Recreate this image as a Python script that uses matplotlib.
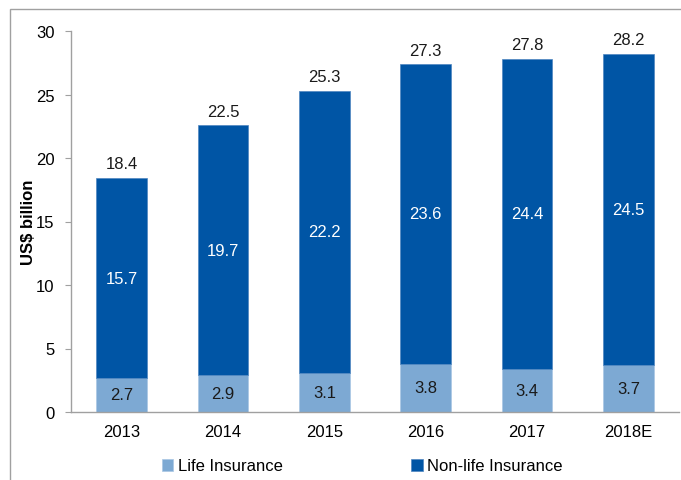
import matplotlib
matplotlib.use("Agg")
import matplotlib.pyplot as plt
from matplotlib.patches import Rectangle

years = ["2013", "2014", "2015", "2016", "2017", "2018E"]
life = [2.7, 2.9, 3.1, 3.8, 3.4, 3.7]
nonlife = [15.7, 19.7, 22.2, 23.6, 24.4, 24.5]
totals = [18.4, 22.5, 25.3, 27.3, 27.8, 28.2]

c_life = "#7DA9D3"
c_non = "#0055A5"

plt.rcParams['font.family'] = ['Liberation Sans', 'DejaVu Sans']
FS = 12

fig = plt.figure(figsize=(6.81, 4.81), dpi=100)
# outer frame
fig.patches.append(Rectangle((10/681, -0.01), 1.0, 1 - 10/481 + 0.01, transform=fig.transFigure,
                             fill=False, edgecolor="#A0A0A0", linewidth=1.0))
ax = fig.add_axes([71/681, 1 - 413/481, 608/681, (413 - 32)/481])

x = list(range(len(years)))
w = 0.5
ax.bar(x, life, w, color=c_life, edgecolor="#A9C7E4", linewidth=0.5, label="Life Insurance")
ax.bar(x, nonlife, w, bottom=life, color=c_non, edgecolor="#4F86C0", linewidth=0.5, label="Non-life Insurance")

for i in x:
    ax.text(i, life[i] / 2, f"{life[i]:.1f}", ha="center", va="center", fontsize=FS, color="#1a1a1a")
    ax.text(i, life[i] + nonlife[i] / 2, f"{nonlife[i]:.1f}", ha="center", va="center", fontsize=FS, color="white")
    ax.text(i, totals[i] + 0.55, f"{totals[i]:.1f}", ha="center", va="bottom", fontsize=FS, color="#1a1a1a")

ax.set_xlim(-0.5, len(years) - 0.5)
ax.set_ylim(0, 30)
ax.set_yticks(range(0, 31, 5))
ax.set_xticks(x)
ax.set_xticklabels(years)
ax.tick_params(axis="y", direction="out", length=4, color="#A0A0A0", labelsize=FS, pad=8)
ax.tick_params(axis="x", length=0, labelsize=FS, pad=9)
for s in ["top", "right"]:
    ax.spines[s].set_visible(False)
for s in ["left", "bottom"]:
    ax.spines[s].set_color("#A0A0A0")
    ax.spines[s].set_linewidth(1.0)
ax.set_ylabel("US$ billion", fontsize=FS, fontweight="bold", labelpad=0)

leg = fig.legend(loc="center", bbox_to_anchor=(362/681, 1 - 467/481), ncol=2, frameon=False,
                 fontsize=FS, handlelength=0.7, handleheight=0.7, handletextpad=0.25,
                 columnspacing=7.7, borderaxespad=0, borderpad=0)

fig.savefig("out.png", dpi=100)
